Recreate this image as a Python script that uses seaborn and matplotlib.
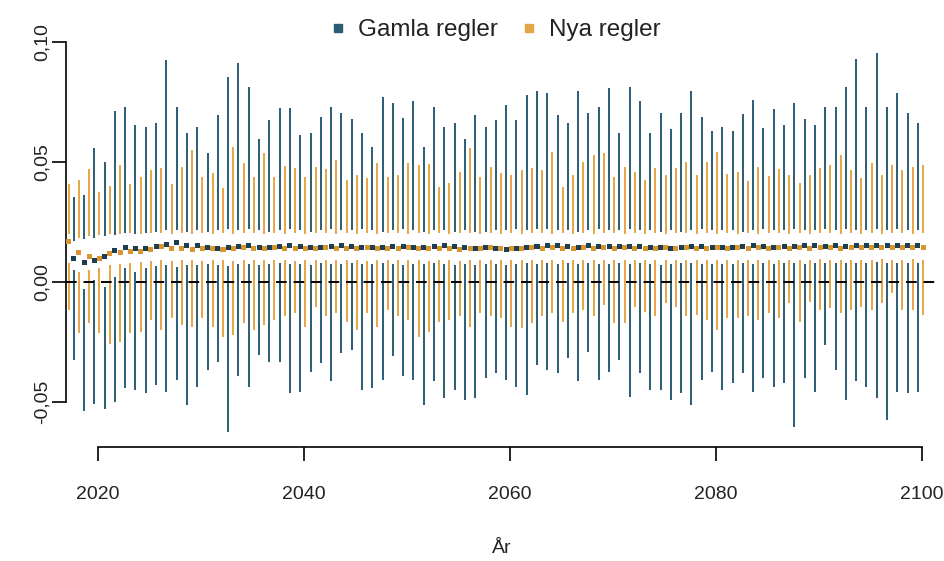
import numpy as np
import pandas as pd
import matplotlib
matplotlib.use("Agg")
import matplotlib.pyplot as plt
import seaborn as sns
from matplotlib.lines import Line2D

# ---------------- data ----------------
years_old = list(range(2018, 2101))          # "Gamla regler"
years_new = list(range(2017, 2101))          # "Nya regler"

old_max = [0.0355, 0.0362, 0.0557, 0.0501, 0.0714, 0.0731, 0.0654, 0.0647, 0.0664, 0.0925,
           0.0730, 0.0622, 0.0644, 0.0536, 0.0696, 0.0856, 0.0911, 0.0814, 0.0594, 0.0675, 0.0724,
           0.0724, 0.0613, 0.0622, 0.0689, 0.0730, 0.0706, 0.0678, 0.0622, 0.0561, 0.0770, 0.0746,
           0.0682, 0.0754, 0.0564, 0.0730, 0.0647, 0.0664, 0.0594, 0.0696, 0.0647, 0.0675, 0.0738,
           0.0675, 0.0779, 0.0796, 0.0789, 0.0696, 0.0664, 0.0796, 0.0706, 0.0730, 0.0807,
           0.0622, 0.0814, 0.0755, 0.0622, 0.0706, 0.0636, 0.0706, 0.0797, 0.0689, 0.0630, 0.0647,
           0.0630, 0.0700, 0.0760, 0.0640, 0.0720,
           0.0654, 0.0747, 0.0678, 0.0654, 0.0728, 0.0728, 0.0814, 0.0928, 0.0728, 0.0955, 0.0728,
           0.0786, 0.0706, 0.0661]
old_q3 = [0.0170, 0.0180, 0.0185, 0.0190, 0.0195, 0.0205, 0.0200, 0.0205, 0.0210, 0.0215,
          0.0215, 0.0210, 0.0215, 0.0210, 0.0215, 0.0220, 0.0215, 0.0220, 0.0215, 0.0210, 0.0215,
          0.0220, 0.0215, 0.0210, 0.0215, 0.0220, 0.0215, 0.0215, 0.0220, 0.0215, 0.0210, 0.0215,
          0.0220, 0.0215, 0.0210, 0.0215, 0.0215, 0.0210, 0.0215, 0.0210, 0.0210, 0.0215, 0.0215,
          0.0220, 0.0215, 0.0220, 0.0220, 0.0215, 0.0215, 0.0210, 0.0215, 0.0220, 0.0215,
          0.0215, 0.0220, 0.0215, 0.0215, 0.0210, 0.0215, 0.0210, 0.0215, 0.0220, 0.0215, 0.0215,
          0.0215, 0.0210, 0.0215, 0.0220, 0.0215,
          0.0215, 0.0220, 0.0215, 0.0215, 0.0220, 0.0215, 0.0220, 0.0215, 0.0215, 0.0220, 0.0215,
          0.0220, 0.0215, 0.0215]
old_med = [0.0096, 0.0082, 0.0089, 0.0106, 0.0130, 0.0144, 0.0140, 0.0138, 0.0147, 0.0157,
           0.0164, 0.0150, 0.0150, 0.0145, 0.0140, 0.0142, 0.0148, 0.0150, 0.0145, 0.0142, 0.0146,
           0.0150, 0.0148, 0.0142, 0.0144, 0.0146, 0.0150, 0.0148, 0.0145, 0.0143, 0.0145, 0.0148,
           0.0146, 0.0143, 0.0145, 0.0148, 0.0150, 0.0146, 0.0143, 0.0140, 0.0142, 0.0138, 0.0136,
           0.0140, 0.0145, 0.0148, 0.0150, 0.0152, 0.0148, 0.0145, 0.0150, 0.0147, 0.0146,
           0.0148, 0.0146, 0.0149, 0.0145, 0.0142, 0.0140, 0.0144, 0.0147, 0.0146, 0.0143, 0.0142,
           0.0144, 0.0146, 0.0150, 0.0147, 0.0145,
           0.0146, 0.0148, 0.0150, 0.0152, 0.0149, 0.0151, 0.0148, 0.0150, 0.0152, 0.0153, 0.0151,
           0.0152, 0.0150, 0.0151]
old_q1 = [0.0050, -0.0030, 0.0010, -0.0020, 0.0022, 0.0060, 0.0043, 0.0058, 0.0067, 0.0070,
          0.0064, 0.0070, 0.0072, 0.0075, 0.0070, 0.0068, 0.0074, 0.0076, 0.0072, 0.0075, 0.0078,
          0.0074, 0.0076, 0.0072, 0.0078, 0.0075, 0.0073, 0.0077, 0.0074, 0.0076, 0.0078, 0.0075,
          0.0072, 0.0076, 0.0074, 0.0078, 0.0075, 0.0072, 0.0074, 0.0070, 0.0073, 0.0075, 0.0072,
          0.0074, 0.0078, 0.0076, 0.0079, 0.0075, 0.0077, 0.0074, 0.0078, 0.0076, 0.0075,
          0.0079, 0.0076, 0.0078, 0.0074, 0.0072, 0.0075, 0.0077, 0.0079, 0.0076, 0.0074, 0.0075,
          0.0076, 0.0078, 0.0075, 0.0077, 0.0076,
          0.0077, 0.0079, 0.0076, 0.0078, 0.0080, 0.0077, 0.0079, 0.0078, 0.0080, 0.0081, 0.0078,
          0.0080, 0.0079, 0.0078]
old_min = [-0.0325, -0.0540, -0.0510, -0.0530, -0.0499, -0.0443, -0.0450, -0.0464, -0.0429, -0.0457,
           -0.0408, -0.0513, -0.0436, -0.0367, -0.0332, -0.0624, -0.0394, -0.0436, -0.0304, -0.0332, -0.0332,
           -0.0464, -0.0457, -0.0374, -0.0339, -0.0415, -0.0297, -0.0283, -0.0450, -0.0443, -0.0408, -0.0310,
           -0.0394, -0.0408, -0.0513, -0.0415, -0.0485, -0.0450, -0.0492, -0.0485, -0.0401, -0.0380, -0.0408,
           -0.0436, -0.0471, -0.0346, -0.0367, -0.0380, -0.0318, -0.0415, -0.0290, -0.0408, -0.0374,
           -0.0325, -0.0478, -0.0380, -0.0450, -0.0450, -0.0492, -0.0464, -0.0513, -0.0408, -0.0374, -0.0450,
           -0.0420, -0.0380, -0.0460, -0.0400, -0.0440,
           -0.0422, -0.0603, -0.0401, -0.0457, -0.0262, -0.0367, -0.0492, -0.0415, -0.0436, -0.0485, -0.0575,
           -0.0457, -0.0464, -0.0457]

new_max = [0.0410, 0.0425, 0.0470, 0.0376, 0.0400, 0.0487, 0.0410, 0.0439, 0.0467, 0.0474, 0.0410,
           0.0480, 0.0550, 0.0439, 0.0453, 0.0390, 0.0564, 0.0494, 0.0439, 0.0536, 0.0439,
           0.0483, 0.0474, 0.0439, 0.0480, 0.0470, 0.0508, 0.0425, 0.0446, 0.0432, 0.0497, 0.0439,
           0.0446, 0.0497, 0.0488, 0.0492, 0.0397, 0.0414, 0.0460, 0.0557, 0.0439, 0.0480, 0.0453,
           0.0446, 0.0467, 0.0474, 0.0467, 0.0543, 0.0397, 0.0446, 0.0501, 0.0529, 0.0536,
           0.0439, 0.0480, 0.0460, 0.0425, 0.0474, 0.0446, 0.0474, 0.0501, 0.0446, 0.0501, 0.0543, 0.0450,
           0.0460, 0.0420, 0.0480, 0.0440, 0.0470,
           0.0446, 0.0411, 0.0446, 0.0474, 0.0488, 0.0529, 0.0467, 0.0432, 0.0494, 0.0446, 0.0488,
           0.0467, 0.0481, 0.0488]
new_q3 = [0.0200, 0.0185, 0.0190, 0.0195, 0.0200, 0.0200, 0.0205, 0.0200, 0.0205, 0.0205, 0.0200,
          0.0205, 0.0200, 0.0205, 0.0200, 0.0205, 0.0200, 0.0205, 0.0205, 0.0200, 0.0205,
          0.0200, 0.0205, 0.0200, 0.0205, 0.0205, 0.0200, 0.0205, 0.0200, 0.0205, 0.0200, 0.0205,
          0.0205, 0.0200, 0.0205, 0.0200, 0.0205, 0.0200, 0.0205, 0.0205, 0.0200, 0.0205, 0.0200,
          0.0205, 0.0200, 0.0205, 0.0205, 0.0200, 0.0205, 0.0200, 0.0205, 0.0200, 0.0205,
          0.0205, 0.0200, 0.0205, 0.0200, 0.0205, 0.0200, 0.0205, 0.0205, 0.0200, 0.0205, 0.0200, 0.0205,
          0.0200, 0.0205, 0.0200, 0.0205, 0.0205,
          0.0200, 0.0205, 0.0200, 0.0205, 0.0205, 0.0200, 0.0205, 0.0200, 0.0205, 0.0200, 0.0205,
          0.0205, 0.0200, 0.0205]
new_med = [0.0168, 0.0124, 0.0106, 0.0097, 0.0117, 0.0122, 0.0125, 0.0126, 0.0135, 0.0147, 0.0140,
           0.0138, 0.0136, 0.0140, 0.0138, 0.0136, 0.0140, 0.0142, 0.0138, 0.0140, 0.0143,
           0.0140, 0.0138, 0.0141, 0.0139, 0.0142, 0.0140, 0.0138, 0.0141, 0.0143, 0.0140, 0.0138,
           0.0140, 0.0142, 0.0139, 0.0141, 0.0138, 0.0140, 0.0136, 0.0138, 0.0140, 0.0142, 0.0140,
           0.0138, 0.0141, 0.0143, 0.0140, 0.0142, 0.0139, 0.0141, 0.0143, 0.0140, 0.0142,
           0.0140, 0.0143, 0.0141, 0.0139, 0.0141, 0.0143, 0.0140, 0.0142, 0.0141, 0.0139, 0.0142, 0.0140,
           0.0142, 0.0140, 0.0143, 0.0141, 0.0142,
           0.0141, 0.0143, 0.0140, 0.0142, 0.0144, 0.0141, 0.0143, 0.0142, 0.0144, 0.0142, 0.0143,
           0.0144, 0.0142, 0.0143]
new_q1 = [0.0080, 0.0040, 0.0050, 0.0060, 0.0070, 0.0075, 0.0080, 0.0085, 0.0088, 0.0090, 0.0088,
          0.0090, 0.0092, 0.0088, 0.0090, 0.0092, 0.0089, 0.0091, 0.0090, 0.0092, 0.0090,
          0.0091, 0.0089, 0.0092, 0.0090, 0.0091, 0.0093, 0.0090, 0.0092, 0.0089, 0.0091, 0.0090,
          0.0092, 0.0090, 0.0091, 0.0089, 0.0092, 0.0090, 0.0088, 0.0090, 0.0092, 0.0091, 0.0090,
          0.0092, 0.0090, 0.0093, 0.0091, 0.0090, 0.0092, 0.0091, 0.0093, 0.0090, 0.0092,
          0.0091, 0.0093, 0.0090, 0.0092, 0.0091, 0.0093, 0.0092, 0.0090, 0.0092, 0.0091, 0.0093, 0.0092,
          0.0091, 0.0093, 0.0092, 0.0090, 0.0092,
          0.0093, 0.0091, 0.0092, 0.0094, 0.0092, 0.0093, 0.0091, 0.0093, 0.0092, 0.0094, 0.0093,
          0.0092, 0.0094, 0.0093]
new_min = [-0.0117, -0.0214, -0.0170, -0.0214, -0.0260, -0.0249, -0.0214, -0.0207, -0.0158, -0.0200, -0.0151,
           -0.0179, -0.0186, -0.0150, -0.0186, -0.0228, -0.0221, -0.0172, -0.0200, -0.0179, -0.0158,
           -0.0144, -0.0130, -0.0186, -0.0103, -0.0144, -0.0130, -0.0165, -0.0200, -0.0130, -0.0186, -0.0117,
           -0.0144, -0.0158, -0.0228, -0.0207, -0.0165, -0.0158, -0.0144, -0.0186, -0.0130, -0.0144, -0.0151,
           -0.0186, -0.0193, -0.0172, -0.0144, -0.0130, -0.0165, -0.0130, -0.0117, -0.0144, -0.0096,
           -0.0172, -0.0172, -0.0103, -0.0124, -0.0144, -0.0089, -0.0103, -0.0144, -0.0137, -0.0158, -0.0200, -0.0150,
           -0.0150, -0.0140, -0.0160, -0.0130, -0.0150,
           -0.0089, -0.0165, -0.0082, -0.0117, -0.0110, -0.0130, -0.0117, -0.0103, -0.0117, -0.0089, -0.0047,
           -0.0117, -0.0117, -0.0138]

labels = ["Gamla regler", "Nya regler"]
colors = ["#2b5d75", "#e7a646"]
x_ticks = [2020, 2040, 2060, 2080, 2100]
y_ticks = [-0.05, 0.0, 0.05, 0.10]
y_ticklabels = ["-0,05", "0,00", "0,05", "0,10"]

# ---------------- plot ----------------
sns.set_theme(style="white")
plt.rcParams["font.family"] = ["Liberation Sans", "DejaVu Sans"]

fig = plt.figure(figsize=(9.44, 5.61), dpi=100)
ax = fig.add_axes([66 / 944, 1 - 447 / 561, (938 - 66) / 944, (447 - 18) / 561])

# dodge offsets of the two series around each year
off_old, off_new = -0.35, 0.15
old = pd.DataFrame({"x": [y + off_old for y in years_old], "lo": old_min, "q1": old_q1,
                    "med": old_med, "q3": old_q3, "hi": old_max, "serie": labels[0]})
new = pd.DataFrame({"x": [y + off_new for y in years_new], "lo": new_min, "q1": new_q1,
                    "med": new_med, "q3": new_q3, "hi": new_max, "serie": labels[1]})

lw = 1.4
for df, c in ((old, colors[0]), (new, colors[1])):
    ax.vlines(df["x"], df["q3"], df["hi"], color=c, lw=lw, zorder=2)
    ax.vlines(df["x"], df["lo"], df["q1"], color=c, lw=lw, zorder=2)

both = pd.concat([old, new], ignore_index=True)
sns.scatterplot(data=both, x="x", y="med", hue="serie", palette=["#1c3e50", "#d9962f"],
                marker="s", s=13, linewidth=0, legend=False, ax=ax, zorder=3)

ax.axhline(0, color="black", lw=1.4, dashes=(5.5, 3.5), zorder=4)

ax.set_xlim(2016.9, 2101.6)
ax.set_ylim(-0.0688, 0.110)

for s in ["top", "right"]:
    ax.spines[s].set_visible(False)
for s in ["left", "bottom"]:
    ax.spines[s].set_color("black")
    ax.spines[s].set_linewidth(1.2)
ax.spines["left"].set_bounds(-0.05, 0.10)
ax.spines["bottom"].set_bounds(2020, 2100)

ax.set_xticks(x_ticks)
ax.set_xticklabels([str(t) for t in x_ticks])
ax.set_yticks(y_ticks)
ax.set_yticklabels(y_ticklabels, rotation=90, va="center")
ax.tick_params(axis="both", direction="out", length=10, width=1.2, color="black",
               labelsize=14, labelcolor="#222222", left=True, bottom=True)
ax.tick_params(axis="x", pad=18)
ax.tick_params(axis="y", pad=1)
ax.set_xlabel("År", fontsize=14, color="#222222", labelpad=27)
ax.set_ylabel("")

handles = [Line2D([], [], marker="s", color=c, linestyle="none", markersize=6) for c in colors]
ax.legend(handles, labels, loc="upper center", bbox_to_anchor=(0.49, 1.02), ncol=2,
          frameon=False, fontsize=17.5, handletextpad=0.3, columnspacing=0.8,
          handlelength=1.0, borderaxespad=0.0, labelcolor="#222222")

fig.savefig("out.png", dpi=100)
